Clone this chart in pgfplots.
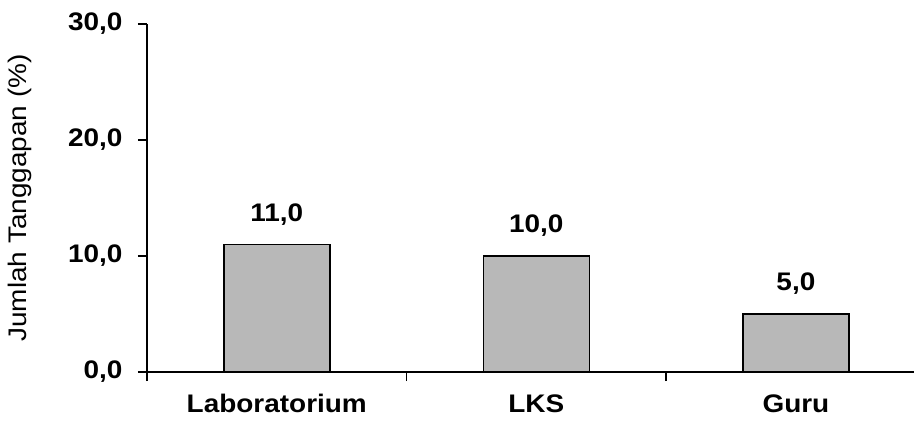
\documentclass[border=0pt]{standalone}
\usepackage{pgfplots}
\usepackage{pgfplotstable}
\pgfplotsset{compat=1.18}
\usepackage{fontspec}
\setmainfont{Liberation Sans}[FakeStretch=1.1]
\pgfplotstableread{
x y lab
0 11 11,0
1 10 10,0
2 5 5,0
}\datatable
\begin{document}
\begin{tikzpicture}
\begin{axis}[
  name=ax, scale only axis, width=767bp, height=348bp,
  xmin=-0.5, xmax=2.455, ymin=0, ymax=30,
  axis x line=bottom, axis y line=left,
  axis line style={line width=1.5bp, -},
  ytick={0,10,20,30}, yticklabels={{0,0},{10,0},{20,0},{30,0}},
  xtick={0,1,2}, xticklabels={Laboratorium,LKS,Guru},
  xtick style={draw=none},
  extra x ticks={-0.5,0.5,1.5}, extra x tick labels={},
  extra x tick style={xtick style={draw=black, line width=1.5bp}},
  ytick style={draw=black, line width=1.5bp},
  tick align=outside, major tick length=9bp,
  tick label style={font=\fontsize{25.5}{30}\selectfont\bfseries},
  yticklabel style={xshift=-12bp},
  xticklabel style={yshift=-10bp},
  ylabel={Jumlah Tanggapan (\%)},
  ylabel style={font=\fontsize{25.5}{30}\selectfont, at={(axis description cs:-0.146,0.5)}, anchor=south},
  clip=false,
]
\addplot[ybar, bar width=106bp, fill=black!28, draw=black, line width=1.6bp,
  nodes near coords, point meta=explicit symbolic,
  nodes near coords style={font=\fontsize{25.5}{30}\selectfont\bfseries, yshift=15bp}]
  table[x=x, y=y, meta=lab]{\datatable};
\end{axis}
\pgfresetboundingbox
\path (ax.south west) ++(-147bp,-56bp) rectangle ++(914bp,428bp);
\end{tikzpicture}
\end{document}
